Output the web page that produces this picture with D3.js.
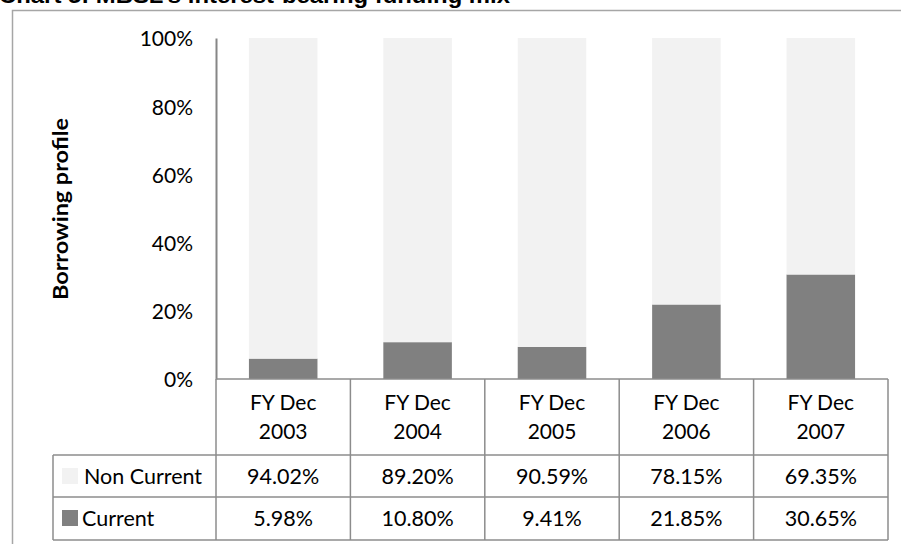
<!DOCTYPE html>
<html>
<head>
<meta charset="utf-8">
<script src="https://cdn.jsdelivr.net/npm/d3@7"></script>
<style>
  body { margin: 0; background: #fff; }
  svg { display: block; }
  text { font-family: Lato, "Open Sans", sans-serif; fill: #000; }
</style>
</head>
<body>
<svg id="chart" width="901" height="544"></svg>
<script>
// données
const years = ["FY Dec 2003", "FY Dec 2004", "FY Dec 2005", "FY Dec 2006", "FY Dec 2007"];
const nonCurrent = [94.02, 89.20, 90.59, 78.15, 69.35];
const current = [5.98, 10.80, 9.41, 21.85, 30.65];
const seriesNames = ["Non Current", "Current"];
const seriesColors = ["#f2f2f2", "#808080"];
const yTicks = [0, 20, 40, 60, 80, 100];

const svg = d3.select("#chart");

const margin = { top: 38, left: 216, right: 13, bottom: 165 },
    width = 888 - margin.left,
    height = 379 - margin.top;

// titre (coupé en haut comme l'original)
svg.append("text")
    .attr("x", -1)
    .attr("y", 3)
    .attr("textLength", 511)
    .attr("lengthAdjust", "spacingAndGlyphs")
    .style("font-family", "'Liberation Sans', Arial, sans-serif")
    .style("font-weight", "bold")
    .style("font-size", "22px")
    .text("Chart 5: MBSL\u2019s interest-bearing funding mix");

// cadre
svg.append("rect")
    .attr("x", 12.5).attr("y", 10.5)
    .attr("width", 910).attr("height", 560)
    .attr("fill", "none")
    .attr("stroke", "#a6a6a6")
    .attr("stroke-width", 1.5);

const g = svg.append("g")
    .attr("transform", "translate(" + margin.left + "," + margin.top + ")");

const x = d3.scaleBand()
    .domain(years)
    .range([0, width])
    .paddingInner(0)
    .paddingOuter(0);

const y = d3.scaleLinear()
    .domain([0, 100])
    .range([height, 0]);

// empilement
const rows = years.map((d, i) => ({ year: d, "Current": current[i], "Non Current": nonCurrent[i] }));
const stack = d3.stack().keys(["Current", "Non Current"])(rows);

const barW = x.bandwidth() * 0.51;
g.selectAll(".serie")
    .data(stack)
    .enter()
    .append("g")
    .attr("fill", d => seriesColors[seriesNames.indexOf(d.key)])
    .selectAll("rect")
    .data(d => d)
    .enter()
    .append("rect")
    .attr("x", d => x(d.data.year) + (x.bandwidth() - barW) / 2)
    .attr("y", d => y(Math.min(d[1], 100)))
    .attr("width", barW)
    .attr("height", d => y(d[0]) - y(Math.min(d[1], 100)));

// axe Y
const yAxis = g.append("g")
    .call(d3.axisLeft(y).tickValues(yTicks).tickSize(0).tickPadding(23).tickFormat(d => d + "%"));
yAxis.select(".domain").attr("stroke", "#868686").attr("stroke-width", 2);
yAxis.selectAll("text")
    .style("font-family", "Lato, sans-serif")
    .style("font-size", "21px")
    .attr("dy", "0.38em");

// titre axe Y
svg.append("text")
    .attr("transform", "translate(61," + 209 + ") rotate(-90)")
    .attr("text-anchor", "middle")
    .attr("dy", "0.35em")
    .attr("textLength", 182)
    .attr("lengthAdjust", "spacingAndGlyphs")
    .style("font-weight", "bold")
    .style("font-size", "21px")
    .text("Borrowing profile");

// tableau de données
const lineColor = "#8c8c8c";
const headTop = height, headBottom = 455 - margin.top, row1 = 497 - margin.top, row2 = 540 - margin.top;
const legendLeft = 53 - margin.left;
const t = g.append("g").attr("stroke", lineColor).attr("stroke-width", 1.5).attr("fill", "none");

t.append("line").attr("x1", 0).attr("x2", width).attr("y1", headTop).attr("y2", headTop);
[headBottom, row1, row2].forEach(yy => {
    t.append("line").attr("x1", legendLeft).attr("x2", width).attr("y1", yy).attr("y2", yy);
});
years.forEach(d => {
    t.append("line").attr("x1", x(d)).attr("x2", x(d)).attr("y1", headTop).attr("y2", row2);
});
t.append("line").attr("x1", width).attr("x2", width).attr("y1", headTop).attr("y2", row2);
t.append("line").attr("x1", legendLeft).attr("x2", legendLeft).attr("y1", headBottom).attr("y2", row2);

// en-têtes
years.forEach(d => {
    const parts = [d.slice(0, 6), d.slice(7)];
    const tx = g.append("text")
        .attr("text-anchor", "middle")
        .style("font-size", "21px");
    tx.append("tspan").attr("x", x(d) + x.bandwidth() / 2).attr("y", 403 - margin.top).attr("dy", "0.35em").text(parts[0]);
    tx.append("tspan").attr("x", x(d) + x.bandwidth() / 2).attr("y", 432 - margin.top).attr("dy", "0.35em").text(parts[1]);
});

// lignes de valeurs
const tableRows = [
    { name: seriesNames[0], values: nonCurrent, color: seriesColors[0], cy: 476 },
    { name: seriesNames[1], values: current, color: seriesColors[1], cy: 518 }
];
tableRows.forEach(r => {
    g.append("rect")
        .attr("x", 62 - margin.left)
        .attr("y", r.cy - margin.top - 8)
        .attr("width", 16).attr("height", 16)
        .attr("fill", r.color);
    g.append("text")
        .attr("x", (r.name === "Current" ? 82 : 84) - margin.left)
        .attr("y", r.cy - margin.top)
        .attr("dy", "0.35em")
        .style("font-size", "21.5px")
        .text(r.name);
    r.values.forEach((v, i) => {
        g.append("text")
            .attr("x", x(years[i]) + x.bandwidth() / 2)
            .attr("y", r.cy - margin.top)
            .attr("dy", "0.35em")
            .attr("text-anchor", "middle")
            .style("font-size", "21.5px")
            .text(v.toFixed(2) + "%");
    });
});
</script>
</body>
</html>
